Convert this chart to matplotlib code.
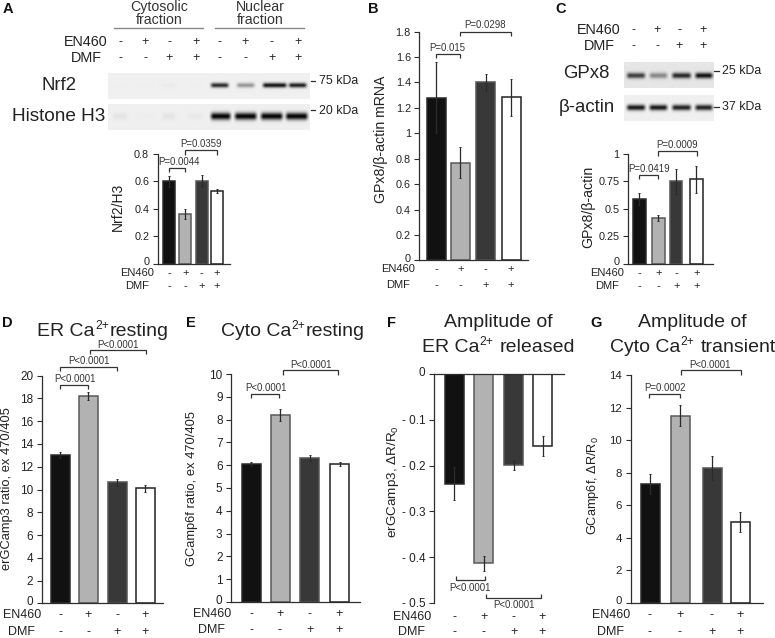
import numpy as np
import matplotlib
matplotlib.use("Agg")
import matplotlib.pyplot as plt
from matplotlib.transforms import ScaledTranslation

plt.rcParams['font.family'] = ['Liberation Sans', 'DejaVu Sans']
plt.rcParams['mathtext.fontset'] = 'custom'
plt.rcParams['mathtext.rm'] = 'Liberation Sans'
plt.rcParams['mathtext.default'] = 'rm'

# ---------- data ----------
EN460 = ['-', '+', '-', '+']
DMF = ['-', '-', '+', '+']

a_vals = [0.60, 0.364, 0.606, 0.528]
a_errs = [0.042, 0.034, 0.044, 0.015]
a_ticks = [0, 0.2, 0.4, 0.6, 0.8]
a_labels = ['0', '0.2', '0.4', '0.6', '0.8']

b_vals = [1.28, 0.769, 1.40, 1.283]
b_errs = [0.28, 0.12, 0.07, 0.147]
b_ticks = [0, 0.2, 0.4, 0.6, 0.8, 1, 1.2, 1.4, 1.6, 1.8]
b_labels = ['0', '0.2', '0.4', '0.6', '0.8', '1', '1.2', '1.4', '1.6', '1.8']

c_vals = [0.588, 0.415, 0.748, 0.767]
c_errs = [0.057, 0.03, 0.11, 0.12]
c_ticks = [0, 0.25, 0.5, 0.75, 1]
c_labels = ['0', '0.25', '0.5', '0.75', '1']

d_vals = [13.05, 18.2, 10.65, 10.1]
d_errs = [0.25, 0.35, 0.3, 0.3]
d_ticks = list(range(0, 21, 2))
e_vals = [6.05, 8.2, 6.3, 6.05]
e_errs = [0.1, 0.28, 0.13, 0.1]
e_ticks = list(range(0, 11))
f_vals = [-0.24, -0.414, -0.199, -0.157]
f_errs = [0.036, 0.017, 0.011, 0.0215]
f_ticks = [0, -0.1, -0.2, -0.3, -0.4, -0.5]
f_labels = ['0', '- 0.1', '- 0.2', '- 0.3', '- 0.4', '- 0.5']
g_vals = [7.3, 11.5, 8.3, 4.94]
g_errs = [0.6, 0.65, 0.75, 0.62]
g_ticks = [0, 2, 4, 6, 8, 10, 12, 14]

# blot band strengths (0..1)
nrf2_bands = [0.005, 0.005, 0.02, 0.005, 0.85, 0.38, 0.95, 0.90]
h3_bands = [0.05, 0.01, 0.05, 0.03, 1.0, 1.0, 1.0, 1.0]
gpx8_bands = [0.75, 0.42, 0.85, 0.95]
actin_bands = [0.92, 0.92, 0.88, 0.88]

BAR_FACE = ['#111111', '#b2b2b2', '#383838', '#ffffff']
BAR_EDGE = ['#2a2a2a', '#5a5a5a', '#555555', '#222222']
LINE = '#2e2e2e'

W, H = 775, 638
fig = plt.figure(figsize=(W / 100, H / 100), dpi=100, facecolor='white')
ov = fig.add_axes([0, 0, 1, 1], zorder=10)
ov.set_xlim(0, W)
ov.set_ylim(H, 0)
ov.axis('off')
ov.patch.set_alpha(0)
renderer = fig.canvas.get_renderer()


def txt(x, y, s, size, ha='center', va='center', **kw):
    return ov.text(x, y, s, fontsize=size, ha=ha, va=va, **kw)


def sup_title(cx, cy, left, sup, right, size=14, gap=0.0):
    """Title with a tight superscript: three real text pieces placed side by side."""
    em = size * 100 / 72
    base = cy + 0.36 * em
    pieces = [(left, size, base), (sup, size * 0.62, base - 0.36 * em), (right, size, base)]
    arts = [ov.text(0, y, s, fontsize=fs, ha='left', va='baseline', color='#222222') for s, fs, y in pieces]
    widths = [a.get_window_extent(renderer).width for a in arts]
    gaps = [0.02 * em, gap * em + 0.02 * em]
    x = cx - (sum(widths) + sum(gaps)) / 2
    for i, a in enumerate(arts):
        a.set_x(x)
        x += widths[i] + (gaps[i] if i < 2 else 0)


def chart(spine_x, x_end, y_bottom, y_top, vmin, vmax, centers, width, vals, errs,
          ticks, labels, tick_size, ylabel, lab_xy, lab_size, invert_axis=False):
    ax = fig.add_axes([spine_x / W, 1 - y_bottom / H, (x_end - spine_x) / W, (y_bottom - y_top) / H])
    ax.set_xlim(spine_x, x_end)
    ax.set_ylim(vmin, vmax)
    ax.patch.set_alpha(0)
    ax.bar(centers, vals, width=width, color=BAR_FACE, edgecolor=BAR_EDGE, linewidth=1.1, zorder=2)
    ax.errorbar(centers, vals, yerr=errs, fmt='none', ecolor='#2a2a2a', elinewidth=0.9,
                capsize=0.8, capthick=0.7, zorder=3)
    for s in ('right', 'top'):
        ax.spines[s].set_visible(False)
    for s in ('left', 'bottom'):
        ax.spines[s].set_color(LINE)
        ax.spines[s].set_linewidth(0.9)
        ax.spines[s].set_zorder(4)
    if invert_axis:
        ax.spines['bottom'].set_position(('data', 0))
    ax.set_xticks([])
    ax.set_yticks(ticks)
    ax.set_yticklabels(labels)
    ax.tick_params(axis='y', length=3.6, width=0.8, color=LINE, labelsize=tick_size, pad=2.5,
                   labelcolor='#222222')
    # the zero label sits a little above its tick, as in the figure
    lift = ScaledTranslation(0, 2.5 / 100, fig.dpi_scale_trans)
    for lab in ax.get_yticklabels():
        if lab.get_text() == '0':
            lab.set_transform(lab.get_transform() + lift)
    txt(lab_xy[0], lab_xy[1], ylabel, lab_size, rotation=90, color='#222222')
    return ax


def signs(xs, y1, y2, lab_x, size=9, lab_size=None):
    lab_size = lab_size or size
    txt(lab_x, y1, 'EN460', lab_size, color='#222222')
    txt(lab_x, y2, 'DMF', lab_size, color='#222222')
    for x, a, b in zip(xs, EN460, DMF):
        txt(x, y1, a, size, color='#222222')
        txt(x, y2, b, size, color='#222222')


def bracket(x0, x1, y_line, y_end, label, tx, ty, size=7):
    ov.plot([x0, x0, x1, x1], [y_end, y_line, y_line, y_end], color='#333333', lw=0.9,
            solid_joinstyle='miter', solid_capstyle='butt')
    txt(tx, ty, label, size, color='#333333')


def blot(x0, x1, y0, y1, spans, strengths, yc, hh, bg=0.94):
    ax = fig.add_axes([x0 / W, 1 - y1 / H, (x1 - x0) / W, (y1 - y0) / H], zorder=1)
    xs = np.arange(x0, x1, 0.5)
    ys = np.arange(y0, y1, 0.5)
    X, Y = np.meshgrid(xs, ys)
    img = np.full(X.shape, bg)
    for (a, b), s in zip(spans, strengths):
        prof = np.clip((X - a) / 4.0, 0, 1) * np.clip((b - X) / 4.0, 0, 1)
        img -= s * bg * prof * np.exp(-((Y - yc) / hh) ** 2)
    ax.imshow(np.clip(img, 0, 1), cmap='gray', vmin=0, vmax=1, aspect='auto',
              extent=[x0, x1, y1, y0], interpolation='bicubic')
    ax.axis('off')


# ---------- panel letters ----------
for s, x, y in [('A', 8, 9), ('B', 373, 9), ('C', 561, 9), ('D', 7, 323), ('E', 191, 323),
                ('F', 392, 323), ('G', 596, 323)]:
    txt(x, y, s, 10.5, fontweight='bold', color='#111111')

# ---------- panel A ----------
txt(158.7, 7, 'Cytosolic', 10.2, color='#333333')
txt(158.7, 20, 'fraction', 10.2, color='#333333')
txt(260, 7, 'Nuclear', 10.2, color='#333333')
txt(260, 20, 'fraction', 10.2, color='#333333')
ov.plot([114, 203], [28, 28], color='#888888', lw=1.0)
ov.plot([215, 304], [28, 28], color='#888888', lw=1.0)
a_top_x = [120.7, 145, 169, 195.7, 219, 245, 272, 297.7]
txt(86, 41.7, 'EN460', 10.4, color='#222222')
txt(86, 58, 'DMF', 10.4, color='#222222')
for x, p, q in zip(a_top_x, EN460 + EN460, DMF + DMF):
    txt(x, 41.7, p, 9, color='#222222')
    txt(x, 58, q, 9, color='#222222')
spans_nrf = [(112, 129), (135, 155), (160, 177), (186, 205), (209, 230), (235, 256), (261, 288), (287, 308)]
spans_h3 = [(111, 129), (135, 155), (160, 177), (186, 205), (209, 232), (233, 258), (259, 284), (284, 309)]
blot(108, 310, 73, 99, spans_nrf, nrf2_bands, 85, 2.3)
blot(108, 310, 104, 130, spans_h3, h3_bands, 116.5, 3.4)
txt(59, 85, 'Nrf2', 13.4, color='#222222')
txt(59, 116.7, 'Histone H3', 13.7, color='#222222')
ov.plot([310.5, 315], [81, 81], color=LINE, lw=0.9)
ov.plot([310.5, 315], [110, 110], color=LINE, lw=0.9)
txt(319, 81, '75 kDa', 8.9, ha='left', color='#222222')
txt(319, 111, '20 kDa', 8.9, ha='left', color='#222222')

a_x = [169, 185.3, 201.7, 217]
chart(157.7, 230, 264, 154, 0, 0.8, a_x, 12, a_vals, a_errs, a_ticks, a_labels, 7.8,
      'Nrf2/H3', (118, 207), 10)
signs(a_x, 273, 286, 137, size=8, lab_size=8)
bracket(169, 185.3, 167.7, 171.7, 'P=0.0044', 179.3, 162.3, 6.9)
bracket(185.3, 217, 150.3, 155, 'P=0.0359', 201, 144.3, 6.9)

# ---------- panel B ----------
b_x = [436.3, 460.3, 485.7, 511]
chart(419.3, 528, 260.3, 31.7, 0, 1.8, b_x, 19, b_vals, b_errs, b_ticks, b_labels, 7.8,
      'GPx8/β-actin mRNA', (380.7, 139), 10.2)
signs(b_x, 269, 285, 398, size=8, lab_size=8)
bracket(436.3, 460.3, 54, 58.3, 'P=0.015', 447, 48.3, 6.9)
bracket(460.3, 511.3, 32, 36, 'P=0.0298', 485.3, 25, 6.9)

# ---------- panel C ----------
c_top_x = [633, 657.3, 679.3, 702.7]
txt(598.7, 30, 'EN460', 10.4, color='#222222')
txt(599, 46.3, 'DMF', 10.4, color='#222222')
for x, p, q in zip(c_top_x, EN460, DMF):
    txt(x, 30, p, 9, color='#222222')
    txt(x, 46.3, q, 9, color='#222222')
spans_c = [(625, 646.5), (647.5, 668.5), (670, 692), (693, 713.5)]
blot(624, 713.3, 61.7, 87.7, spans_c, gpx8_bands, 75, 2.8, bg=0.90)
blot(624, 713.3, 95, 120.7, spans_c, actin_bands, 107.3, 2.8)
txt(586.7, 74, 'GPx8', 13.4, color='#222222')
txt(587, 108, 'β-actin', 13.4, color='#222222')
ov.plot([714, 719.3], [70.7, 70.7], color=LINE, lw=0.9)
ov.plot([714, 719.3], [107.3, 107.3], color=LINE, lw=0.9)
txt(721.7, 70.7, '25 kDa', 8.9, ha='left', color='#222222')
txt(721.7, 107.3, '37 kDa', 8.9, ha='left', color='#222222')

c_x = [639.5, 658.5, 676.3, 696.5]
chart(628, 712.7, 263.7, 153.7, 0, 1, c_x, 12.3, c_vals, c_errs, c_ticks, c_labels, 7.8,
      'GPx8/β-actin', (588.3, 207), 10.2)
signs(c_x, 272.8, 286, 607.5, size=8, lab_size=8)
bracket(639.3, 658.3, 174.7, 179.3, 'P=0.0419', 649.3, 169, 6.9)
bracket(657.7, 697, 151, 155.7, 'P=0.0009', 677.3, 145.3, 6.9)

# ---------- panel D ----------
d_x = [60.2, 88.3, 117.2, 145.5]
chart(41.7, 163, 603.3, 375.7, 0, 20, d_x, 19, d_vals, d_errs, d_ticks, [str(t) for t in d_ticks],
      8.5, 'erGCamp3 ratio, ex 470/405', (7, 489), 9.3)
signs(d_x, 615, 631.7, 21.7, size=9)
sup_title(103, 328.6, 'ER Ca', '2+', 'resting')
bracket(60, 88.3, 385.3, 389.3, 'P<0.0001', 74.7, 379.3, 6.9)
bracket(60, 117.3, 367, 371.3, 'P<0.0001', 89, 361, 6.9)
bracket(90.3, 145.7, 350, 354, 'P<0.0001', 118, 345, 6.9)

# ---------- panel E ----------
e_x = [251.2, 280, 309.7, 339.5]
chart(231, 360, 602, 374, 0, 10, e_x, 19, e_vals, e_errs, e_ticks, [str(t) for t in e_ticks],
      8.5, 'GCamp6f ratio, ex 470/405', (191.7, 489), 9.3)
signs(e_x, 614, 630, 211.7, size=9)
sup_title(292.7, 328.6, 'Cyto Ca', '2+', 'resting')
bracket(250.7, 279, 394, 398.3, 'P<0.0001', 265.7, 387.7, 6.9)
bracket(282.7, 338.3, 370.3, 375, 'P<0.0001', 310.7, 365, 6.9)

# ---------- panel F ----------
f_x = [454.2, 483.8, 513.8, 542.5]
chart(434, 564.3, 602.7, 374.3, -0.5, 0, f_x, 19, f_vals, f_errs, f_ticks, f_labels,
      8.5, 'erGCamp3, ΔR/R$_0$', (393, 481.7), 9.7, invert_axis=True)
signs(f_x, 616.7, 631.7, 411.7, size=9)
txt(498.3, 322.3, 'Amplitude of', 14, color='#222222')
sup_title(498.3, 345.3, 'ER Ca', '2+', 'released', gap=0.278)
bracket(456.3, 484.7, 580, 575.7, 'P<0.0001', 470, 587.7, 6.9)
bracket(486.3, 541.3, 598.3, 594, 'P<0.0001', 514, 605.3, 6.9)

# ---------- panel G ----------
g_x = [650, 680, 712, 740]
chart(630.7, 763.3, 602.7, 375, 0, 14, g_x, 19, g_vals, g_errs, g_ticks, [str(t) for t in g_ticks],
      8.2, 'GCamp6f, ΔR/R$_0$', (593, 486), 9.2)
signs(g_x, 615, 631.7, 610.7, size=9)
txt(692.7, 322.3, 'Amplitude of', 14, color='#222222')
sup_title(692.7, 345.3, 'Cyto Ca', '2+', 'transient', gap=0.278)
bracket(649.3, 680.3, 394, 398.3, 'P=0.0002', 665, 387.7, 6.9)
bracket(680.7, 740.7, 370.3, 375, 'P<0.0001', 710, 365.3, 6.9)

fig.savefig('out.png', dpi=100, facecolor='white')
